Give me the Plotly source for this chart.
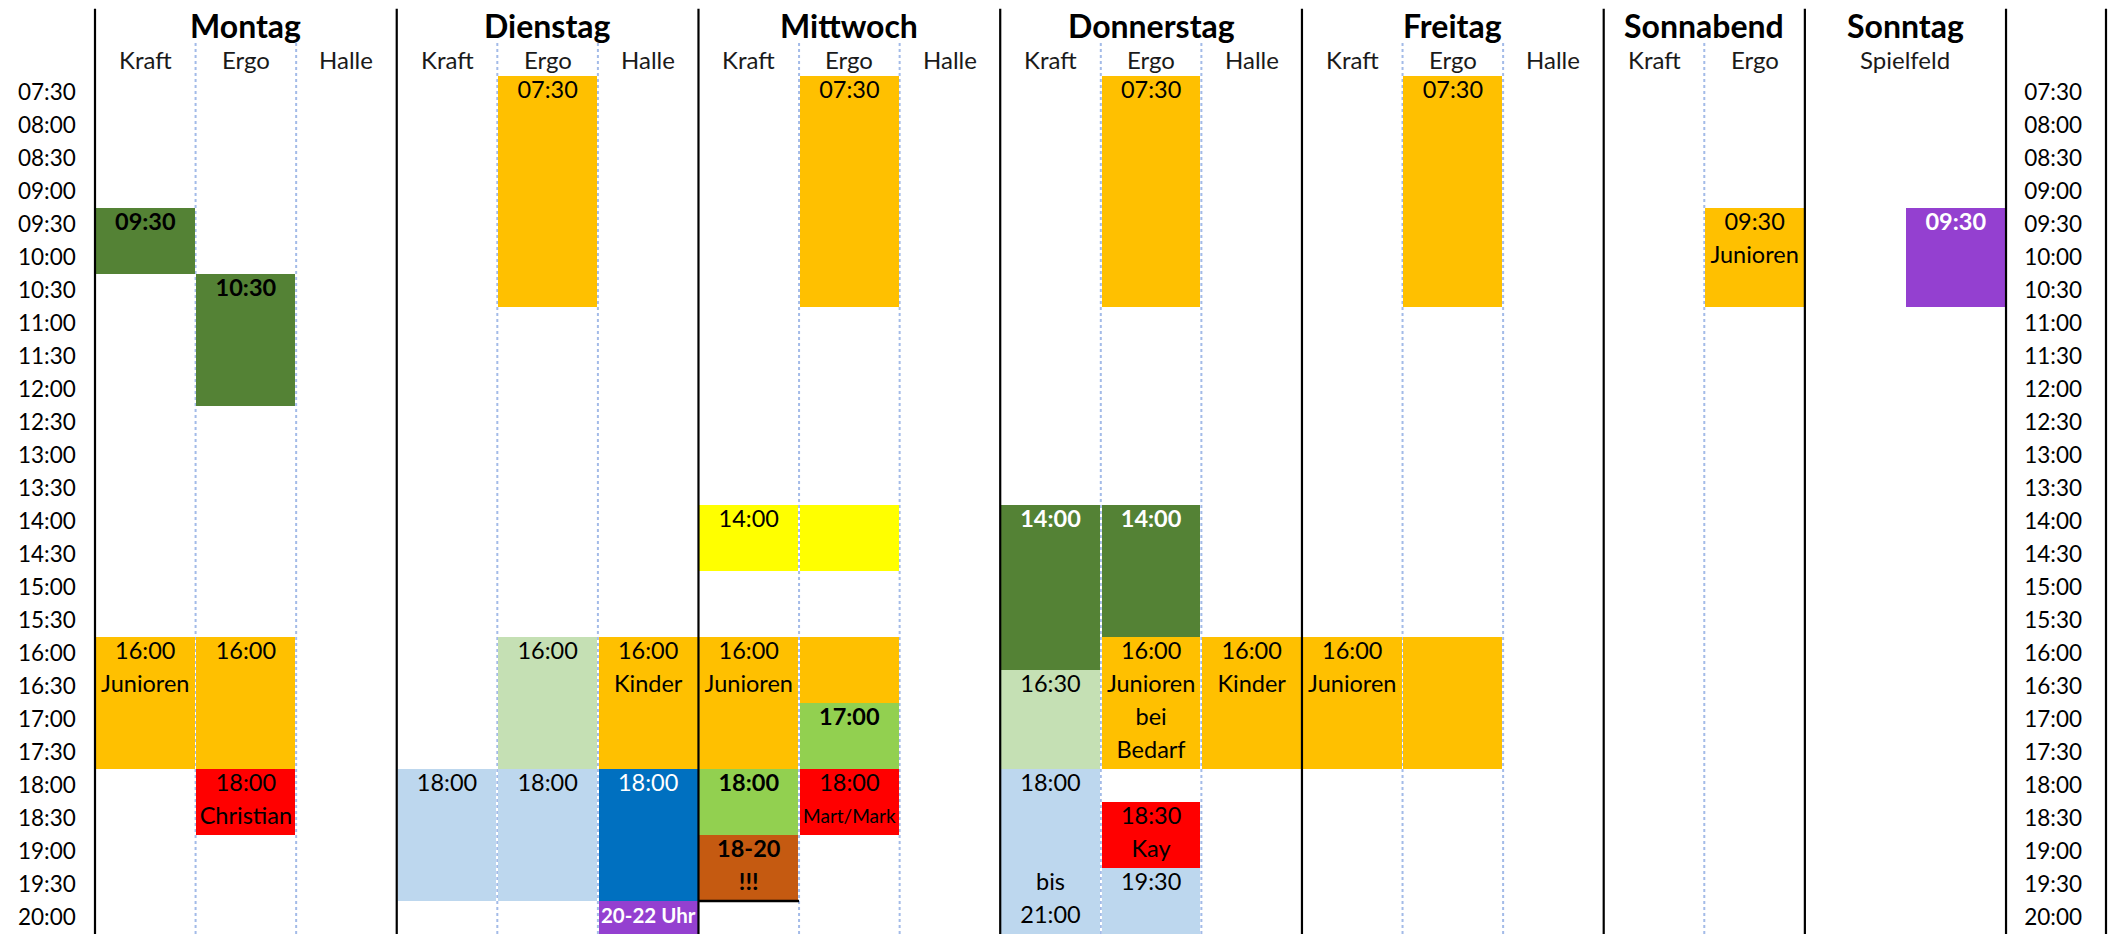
import plotly.graph_objects as go

# ---------------- data ----------------
days = ["Montag", "Dienstag", "Mittwoch", "Donnerstag", "Freitag", "Sonnabend", "Sonntag"]
day_slots = [3, 3, 3, 3, 3, 2, 2]
day_sublabels = [
    ["Kraft", "Ergo", "Halle"],
    ["Kraft", "Ergo", "Halle"],
    ["Kraft", "Ergo", "Halle"],
    ["Kraft", "Ergo", "Halle"],
    ["Kraft", "Ergo", "Halle"],
    ["Kraft", "Ergo"],
    ["Spielfeld"],
]

time_labels = ["07:30", "08:00", "08:30", "09:00", "09:30", "10:00", "10:30", "11:00",
               "11:30", "12:00", "12:30", "13:00", "13:30", "14:00", "14:30", "15:00",
               "15:30", "16:00", "16:30", "17:00", "17:30", "18:00", "18:30", "19:00",
               "19:30", "20:00"]

ORANGE = "#FFC000"; DKGREEN = "#548235"; LTGREEN = "#C5E0B4"; LTBLUE = "#BDD7EE"
BLUE = "#0070C0"; RED = "#FF0000"; YELLOW = "#FFFF00"; GREEN = "#92D050"
BROWN = "#C55A11"; PURPLE = "#9440D0"

blk_day = ["Montag", "Montag", "Montag", "Montag", "Montag",
           "Dienstag", "Dienstag", "Dienstag", "Dienstag", "Dienstag", "Dienstag", "Dienstag",
           "Mittwoch", "Mittwoch", "Mittwoch", "Mittwoch", "Mittwoch", "Mittwoch", "Mittwoch",
           "Mittwoch", "Mittwoch",
           "Donnerstag", "Donnerstag", "Donnerstag", "Donnerstag", "Donnerstag", "Donnerstag",
           "Donnerstag", "Donnerstag", "Donnerstag",
           "Freitag", "Freitag", "Freitag",
           "Sonnabend", "Sonntag"]
blk_slot = [0, 1, 0, 1, 1,
            1, 1, 2, 0, 1, 2, 2,
            1, 0, 1, 0, 1, 1, 0, 0, 1,
            1, 0, 1, 0, 0, 1, 1, 1, 2,
            0, 1, 1,
            1, 1]
blk_start = ["09:30", "10:30", "16:00", "16:00", "18:00",
             "07:30", "16:00", "16:00", "18:00", "18:00", "18:00", "20:00",
             "07:30", "14:00", "14:00", "16:00", "16:00", "17:00", "18:00", "19:00", "18:00",
             "07:30", "14:00", "14:00", "16:30", "18:00", "16:00", "18:30", "19:30", "16:00",
             "16:00", "07:30", "16:00",
             "09:30", "09:30"]
blk_end = ["10:30", "12:30", "18:00", "18:00", "19:00",
           "11:00", "18:00", "18:00", "20:00", "20:00", "20:00", "22:00",
           "11:00", "15:00", "15:00", "18:00", "17:00", "18:00", "19:00", "20:00", "19:00",
           "11:00", "16:30", "16:00", "18:00", "21:00", "18:00", "19:30", "21:00", "18:00",
           "18:00", "11:00", "18:00",
           "11:00", "11:00"]
blk_color = [DKGREEN, DKGREEN, ORANGE, ORANGE, RED,
             ORANGE, LTGREEN, ORANGE, LTBLUE, LTBLUE, BLUE, PURPLE,
             ORANGE, YELLOW, YELLOW, ORANGE, ORANGE, GREEN, GREEN, BROWN, RED,
             ORANGE, DKGREEN, DKGREEN, LTGREEN, LTBLUE, ORANGE, RED, LTBLUE, ORANGE,
             ORANGE, ORANGE, ORANGE,
             ORANGE, PURPLE]
blk_lines = [["09:30"], ["10:30"], ["16:00", "Junioren"], ["16:00"], ["18:00", "Christian"],
             ["07:30"], ["16:00"], ["16:00", "Kinder"], ["18:00"], ["18:00"], ["18:00"], ["20-22 Uhr"],
             ["07:30"], ["14:00"], [], ["16:00", "Junioren"], [], ["17:00"], ["18:00"],
             ["18-20", "!!!"], ["18:00", "Mart/Mark"],
             ["07:30"], ["14:00"], ["14:00"], ["16:30"], ["18:00", "", "", "bis", "21:00"],
             ["16:00", "Junioren", "bei", "Bedarf"], ["18:30", "Kay"], ["19:30"], ["16:00", "Kinder"],
             ["16:00", "Junioren"], ["07:30"], [],
             ["09:30", "Junioren"], ["09:30"]]
blk_bold = [1, 1, 0, 0, 0,
            0, 0, 0, 0, 0, 0, 1,
            0, 0, 0, 0, 0, 1, 1, 1, 0,
            0, 1, 1, 0, 0, 0, 0, 0, 0,
            0, 0, 0,
            0, 1]
blk_txtcol = ["black", "black", "black", "black", "black",
              "black", "black", "black", "black", "black", "white", "white",
              "black", "black", "black", "black", "black", "black", "black", "black", "black",
              "black", "white", "white", "black", "black", "black", "black", "black", "black",
              "black", "black", "black",
              "black", "white"]
# (size of first text line, size of following lines)
N = (23.5, 23.5)
blk_fontsize = [N, N, N, N, N,
                N, N, N, N, N, N, (20.5, 20.5),
                N, N, N, N, N, N, N, N, (23.5, 19),
                N, N, N, N, N, N, N, N, N,
                N, N, N,
                N, N]
blk_bottom_border = [0, 0, 0, 0, 0,
                     0, 0, 0, 0, 0, 0, 0,
                     0, 0, 0, 0, 0, 0, 0, 1, 0,
                     0, 0, 0, 0, 0, 0, 0, 0, 0,
                     0, 0, 0,
                     0, 0]

# ---------------- helpers ----------------
FONT = "Lato"
ROW = 0.5  # half-hour rows


def t2h(s):
    h, m = s.split(":")
    return int(h) + int(m) / 60.0


day_first = {}
c = 0
for d, n in zip(days, day_slots):
    day_first[d] = c
    c += n
n_cols = c
LEFT_W = 0.9445   # width of left time-label column (in slot units)
RIGHT_W = 0.994   # width of right time-label column
RIGHT_PAD = 0.0795

y_top = t2h(time_labels[0])
y_bot = t2h(time_labels[-1]) + ROW

fig = go.Figure()

# blocks
xs, bases, lens, cols = [], [], [], []
for d, s, a, b, col in zip(blk_day, blk_slot, blk_start, blk_end, blk_color):
    xs.append(day_first[d] + s + 0.5)
    bases.append(t2h(a))
    lens.append(t2h(b) - t2h(a))
    cols.append(col)
fig.add_trace(go.Bar(x=xs, y=lens, base=bases, width=0.982, marker=dict(color=cols, line=dict(width=0)),
                     hoverinfo="skip", showlegend=False))

# block text
groups = {}
for d, s, a, lines, bold, tc, fs in zip(blk_day, blk_slot, blk_start, blk_lines, blk_bold, blk_txtcol,
                                         blk_fontsize):
    for k, ln in enumerate(lines):
        if not ln:
            continue
        size = fs[0] if k == 0 else fs[1]
        key = (tc, size)
        g = groups.setdefault(key, ([], [], []))
        g[0].append(day_first[d] + s + 0.5)
        g[1].append(t2h(a) + ROW / 2 + k * ROW)
        g[2].append("<b>%s</b>" % ln if bold else ln)
for (tc, size), (gx, gy, gt) in groups.items():
    fig.add_trace(go.Scatter(x=gx, y=gy, text=gt, mode="text", textposition="middle center",
                             textfont=dict(family=FONT, size=size, color=tc),
                             hoverinfo="skip", showlegend=False, cliponaxis=False))

# invisible trace on the right-hand time axis
tick_vals = [t2h(t) + ROW / 2 for t in time_labels]
fig.add_trace(go.Scatter(x=[n_cols + RIGHT_W / 2] * len(tick_vals), y=tick_vals, yaxis="y2",
                         mode="markers", marker=dict(opacity=0), hoverinfo="skip", showlegend=False))

shapes = []
# dotted slot separators
for d, n, subs in zip(days, day_slots, day_sublabels):
    if len(subs) == n:
        for k in range(1, n):
            shapes.append(dict(type="line", xref="x", yref="paper", x0=day_first[d] + k, x1=day_first[d] + k,
                               y0=0, y1=1.0385, layer="below",
                               line=dict(color="#A3BBE8", width=2, dash="dot")))
# solid day separators
bounds = [day_first[d] for d in days] + [n_cols, n_cols + RIGHT_W]
for bx in bounds:
    shapes.append(dict(type="line", xref="x", yref="paper", x0=bx, x1=bx, y0=0, y1=1.0785,
                       line=dict(color="black", width=2.2)))
# bottom borders on blocks
for d, s, b, flag in zip(blk_day, blk_slot, blk_end, blk_bottom_border):
    if flag:
        shapes.append(dict(type="line", xref="x", yref="y", x0=day_first[d] + s, x1=day_first[d] + s + 1,
                           y0=t2h(b), y1=t2h(b), line=dict(color="black", width=2.5)))

annotations = []
for d, n, subs in zip(days, day_slots, day_sublabels):
    x0 = day_first[d]
    annotations.append(dict(x=x0 + n / 2, y=1.0585, xref="x", yref="paper", text="<b>%s</b>" % d,
                            showarrow=False, font=dict(family=FONT, size=32, color="black"),
                            xanchor="center", yanchor="middle", borderpad=0))
    w = n / len(subs)
    for k, sl in enumerate(subs):
        annotations.append(dict(x=x0 + w * (k + 0.5), y=1.0195,
                                xref="x", yref="paper", text=sl, showarrow=False,
                                font=dict(family=FONT, size=24, color="#1a1a1a"),
                                xanchor="center", yanchor="middle", borderpad=0))

yax_common = dict(range=[y_bot, y_top], tickvals=tick_vals, ticktext=time_labels, showgrid=False,
                  zeroline=False, showline=False, ticks="", ticklabelposition="inside",
                  tickfont=dict(family=FONT, size=22.5, color="black"), fixedrange=True)

fig.update_layout(
    width=2114, height=934,
    margin=dict(l=0, r=0, t=76, b=0, pad=0),
    paper_bgcolor="white", plot_bgcolor="white",
    barmode="overlay", bargap=0,
    xaxis=dict(range=[-LEFT_W, n_cols + RIGHT_W + RIGHT_PAD], showgrid=False, zeroline=False,
               showticklabels=False, showline=False, ticks="", fixedrange=True),
    yaxis=dict(side="left", ticklabelstandoff=15, **yax_common),
    yaxis2=dict(side="right", overlaying="y", anchor="x", ticklabelstandoff=29, **yax_common),
    shapes=shapes,
    annotations=annotations,
    showlegend=False,
)

fig.write_html("out.html", config={"displayModeBar": False, "staticPlot": True},
               post_script="document.body.style.margin='0';document.body.style.overflow='hidden';")
